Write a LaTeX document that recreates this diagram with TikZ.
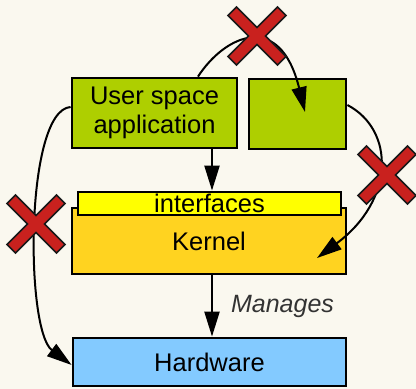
\documentclass[tikz,border=0pt]{standalone}
\usepackage{fontspec}
\setmainfont{Liberation Sans}
\usetikzlibrary{arrows.meta,calc}
\definecolor{bg}{HTML}{FAF8EF}
\definecolor{ugreen}{HTML}{AECF00}
\definecolor{iyellow}{HTML}{FFFF00}
\definecolor{kyellow}{HTML}{FFD320}
\definecolor{hblue}{HTML}{83CAFF}
\definecolor{xred}{HTML}{C9211E}
\definecolor{mgray}{HTML}{333333}
\tikzset{
  box/.style={draw=black, line width=2.8pt, inner sep=0pt, align=center,
    font=\fontsize{25.5}{29}\selectfont},
  arr/.style={line width=2.2pt, -{Triangle[length=25pt,width=15pt]}},
  curvearr/.style={line width=2pt, -{Triangle[length=25pt,width=15pt]}},
  rcross/.pic={
    \draw[fill=xred, draw=black!90, line width=1.6pt, line join=miter]
      (29,20.52) -- (20.52,29) -- (0,8.49) -- (-20.52,29) -- (-29,20.52) --
      (-8.49,0) -- (-29,-20.52) -- (-20.52,-29) -- (0,-8.49) --
      (20.52,-29) -- (29,-20.52) -- (8.49,0) -- cycle;
  }
}
\begin{document}
\begin{tikzpicture}[x=1pt,y=-1pt]
  \useasboundingbox (0,0) rectangle (416,389);
  \fill[bg] (0,0) rectangle (416,389);

  \node[box, fill=ugreen, minimum width=165pt, minimum height=70pt] (app) at (154.5,113) {User space\\application};
  \node[box, fill=ugreen, minimum width=97pt, minimum height=70pt] (rbox) at (297.5,114) {};
  \node[box, fill=kyellow, minimum width=274pt, minimum height=66pt] (kernel) at (209,241) {Kernel};
  \node[box, fill=iyellow, minimum width=263pt, minimum height=23pt] (iface) at (209.5,203.5) {interfaces};
  \node[box, fill=hblue, minimum width=273pt, minimum height=48pt] (hw) at (209.5,362) {Hardware};

  \coordinate (ax) at (212,0);
  \coordinate (t1) at (305,112);
  \coordinate (t3) at (317,258);

  \draw[arr] (app.south -| ax) -- (iface.north -| ax);
  \draw[arr] (kernel.south -| ax) -- node[anchor=west, inner sep=0pt, xshift=18pt,
      font=\fontsize{25}{29}\selectfont\itshape, text=mgray] (mlabel) {Manages} (hw.north -| ax);

  \draw[curvearr] ([xshift=43.5pt]app.north) .. controls (225,35) and (280,10) .. (t1);
  \draw[curvearr] ([yshift=6pt]app.west) .. controls (25,110) and (25,330) .. ([yshift=-3pt]hw.west);
  \draw[curvearr] ([yshift=9pt]rbox.east) .. controls (395,130) and (395,200) .. (t3);

  \pic (c1) at (257,36) {rcross};
  \pic (c2) at (36,224) {rcross};
  \pic (c3) at (387,175) {rcross};
\end{tikzpicture}
\end{document}
